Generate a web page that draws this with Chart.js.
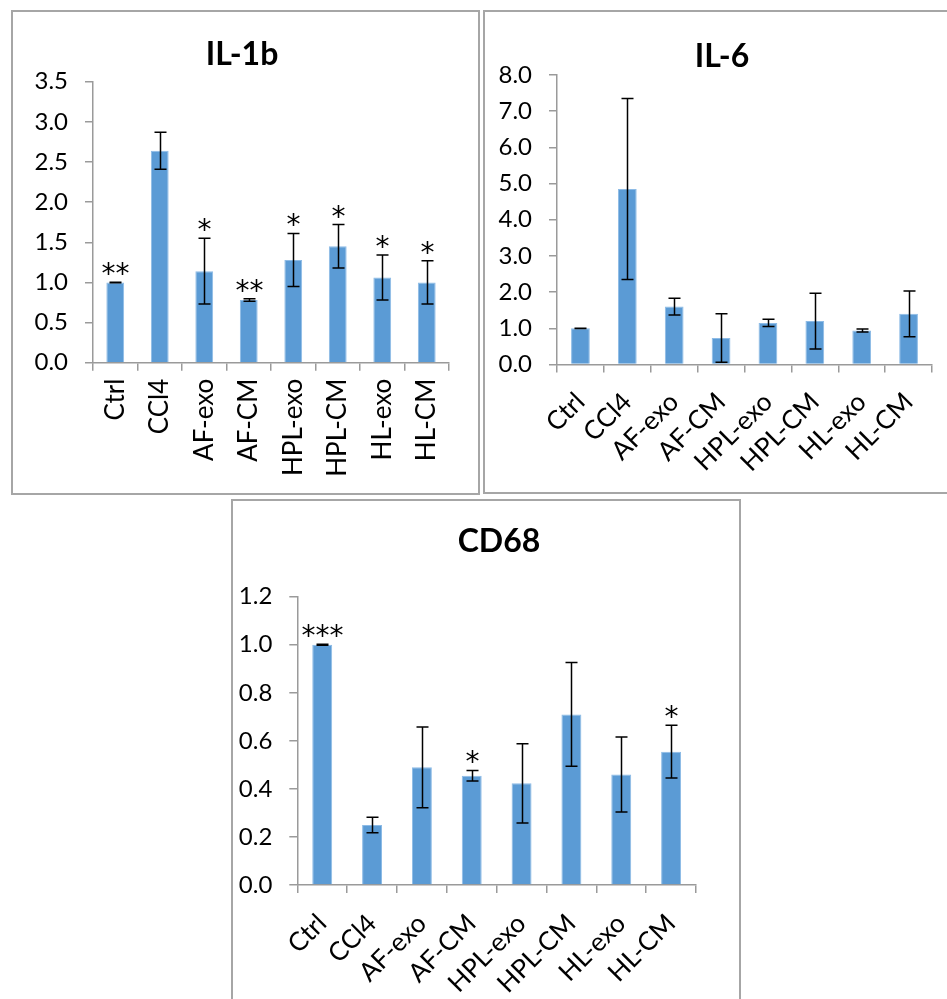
<!DOCTYPE html>
<html>
<head>
<meta charset="utf-8">
<script src="https://cdn.jsdelivr.net/npm/chart.js@4.4.1/dist/chart.umd.min.js"></script>
<style>
  html, body { margin: 0; padding: 0; background: #fff; width: 947px; height: 999px; overflow: hidden; position: relative; }
  .panel { position: absolute; box-sizing: border-box; border: 2px solid #a6a6a6; }
  canvas { position: absolute; }
</style>
</head>
<body>
<div class="panel" style="left:11px;top:10px;width:469px;height:485px"></div>
<div class="panel" style="left:483px;top:10px;width:470px;height:484px"></div>
<div class="panel" style="left:231px;top:499px;width:510px;height:510px"></div>
<canvas id="il1b" width="469" height="485" style="left:11px;top:10px"></canvas>
<canvas id="il6" width="464" height="484" style="left:483px;top:10px"></canvas>
<canvas id="cd68" width="509" height="500" style="left:231px;top:499px"></canvas>
<script>
// Treatment groups shared by all three panels
const groups = ['Ctrl', 'CCl4', 'AF-exo', 'AF-CM', 'HPL-exo', 'HPL-CM', 'HL-exo', 'HL-CM'];

// IL-1b relative expression (mean, SD, significance marks)
const il1bMean = [1.00, 2.64, 1.14, 0.78, 1.28, 1.45, 1.06, 1.00];
const il1bErr  = [0.003, 0.23, 0.41, 0.015, 0.33, 0.27, 0.28, 0.27];
const il1bSig  = ['**', '', '*', '**', '*', '*', '*', '*'];

// IL-6 relative expression
const il6Mean = [1.00, 4.85, 1.60, 0.73, 1.15, 1.20, 0.94, 1.40];
const il6Err  = [0.005, 2.50, 0.23, 0.67, 0.10, 0.77, 0.04, 0.63];
const il6Sig  = ['', '', '', '', '', '', '', ''];

// CD68 relative expression
const cd68Mean = [1.00, 0.25, 0.49, 0.455, 0.423, 0.71, 0.46, 0.555];
const cd68Err  = [0.002, 0.032, 0.168, 0.022, 0.165, 0.216, 0.156, 0.11];
const cd68Sig  = ['***', '', '', '*', '', '', '', '*'];

const FONT = 'Lato, "Open Sans", sans-serif';
const STAR_FONT = '"DejaVu Sans", sans-serif';
const AXIS = '#9a9a9a';

// Draws SD whiskers and significance asterisks above each bar
const errorBars = {
  id: 'errorBars',
  afterDatasetsDraw(chart) {
    const { ctx, scales: { x, y } } = chart;
    const ds = chart.data.datasets[0];
    const err = ds.errors || [];
    const sig = ds.signif || [];
    ctx.save();
    ctx.strokeStyle = '#000';
    ctx.lineWidth = 1.5;
    ctx.fillStyle = '#000';
    ctx.font = '28px ' + STAR_FONT;
    ctx.textAlign = 'center';
    ctx.textBaseline = 'alphabetic';
    ds.data.forEach((v, i) => {
      const cx = Math.round(x.getPixelForValue(i)) + 0.5;
      const top = y.getPixelForValue(v + err[i]);
      const bot = y.getPixelForValue(v - err[i]);
      ctx.beginPath();
      ctx.moveTo(cx, top); ctx.lineTo(cx, bot);
      ctx.moveTo(cx - 6, top); ctx.lineTo(cx + 6, top);
      ctx.moveTo(cx - 6, bot); ctx.lineTo(cx + 6, bot);
      ctx.stroke();
      if (sig[i]) ctx.fillText(sig[i], cx, top + 1);
    });
    ctx.restore();
  }
};

// Bold panel heading at a fixed spot inside the canvas
const panelTitle = {
  id: 'panelTitle',
  afterDraw(chart, args, opts) {
    const { ctx } = chart;
    ctx.save();
    ctx.fillStyle = '#000';
    ctx.font = 'bold 32px ' + FONT;
    ctx.textAlign = 'center';
    ctx.textBaseline = 'alphabetic';
    ctx.fillText(opts.text, opts.x, opts.y + 11.5);
    ctx.restore();
  }
};

function makePanel(id, title, titlePos, means, errs, sig, yMax, yStep, rot, area) {
  const cv = document.getElementById(id);
  return new Chart(cv, {
    type: 'bar',
    data: {
      labels: groups,
      datasets: [{
        data: means,
        errors: errs,
        signif: sig,
        backgroundColor: '#5b9bd5',
        borderColor: '#8dbbe6',
        borderWidth: { left: 1, right: 1, top: 1, bottom: 0 },
        barPercentage: 0.4,
        categoryPercentage: 1.0
      }]
    },
    options: {
      responsive: false,
      animation: false,
      devicePixelRatio: 1,
      layout: { padding: { left: 0, top: area.top, right: area.right, bottom: 0 } },
      plugins: {
        legend: { display: false },
        tooltip: { enabled: false },
        title: { display: false },
        panelTitle: { text: title, x: titlePos[0], y: titlePos[1] }
      },
      scales: {
        x: {
          grid: { display: true, drawOnChartArea: false, drawTicks: true, tickLength: 8, color: AXIS, lineWidth: 1.5, offset: true },
          border: { display: true, color: AXIS, width: 1.5 },
          ticks: {
            color: '#000', font: { family: FONT, size: 26 }, minRotation: rot, maxRotation: rot,
            autoSkip: false, padding: area.xpad
          },
          afterFit: s => { s.height = area.xh; }
        },
        y: {
          min: 0, max: yMax,
          grid: { display: true, drawOnChartArea: false, drawTicks: true, tickLength: 8, color: AXIS, lineWidth: 1.5 },
          border: { display: true, color: AXIS, width: 1.5 },
          ticks: {
            stepSize: yStep, color: '#000', font: { family: FONT, size: 24 }, padding: 17,
            callback: v => Number(v).toFixed(1)
          },
          afterFit: s => { s.width = area.yw; }
        }
      }
    },
    plugins: [errorBars, panelTitle]
  });
}

makePanel('il1b', 'IL-1b', [231, 43], il1bMean, il1bErr, il1bSig, 3.5, 0.5, 90,
  { top: 71.7, right: 31, xh: 132.3, yw: 82, xpad: 8 });
makePanel('il6', 'IL-6', [239, 45], il6Mean, il6Err, il6Sig, 8, 1, 45,
  { top: 65, right: 15, xh: 129.5, yw: 74, xpad: 14 });
makePanel('cd68', 'CD68', [268, 41], cd68Mean, cd68Err, cd68Sig, 1.2, 0.2, 45,
  { top: 97.7, right: 44, xh: 114, yw: 66.3, xpad: 15 });
</script>
</body>
</html>
